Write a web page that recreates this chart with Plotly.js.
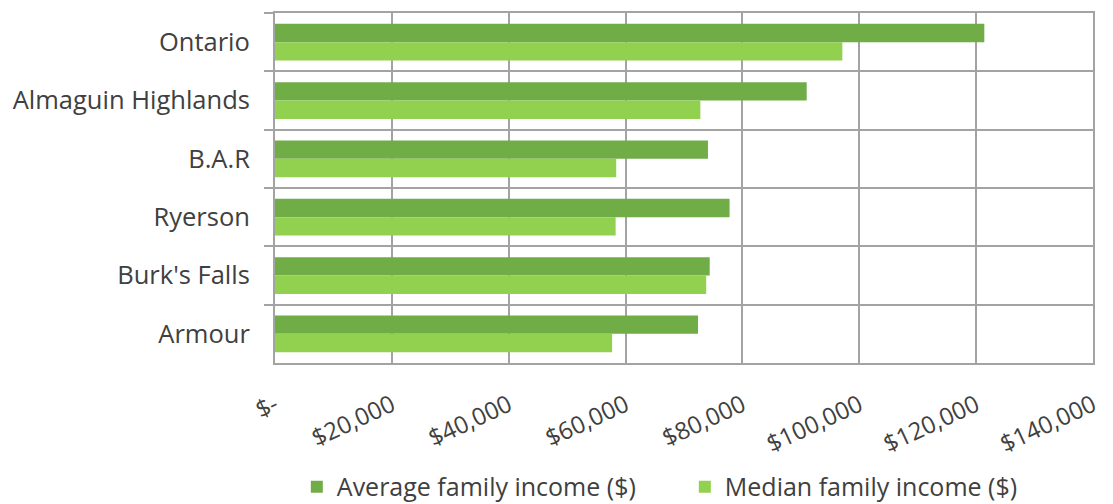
<!DOCTYPE html>
<html>
<head>
<meta charset="utf-8">
<script src="https://cdn.plot.ly/plotly-3.0.1.min.js"></script>
<style>html,body{margin:0;padding:0;background:#fff;}#chart{width:1113px;height:504px;}</style>
</head>
<body>
<div id="chart"></div>
<script>
const categories = ["Ontario", "Almaguin Highlands", "B.A.R", "Ryerson", "Burk's Falls", "Armour"];
const averageIncome = [121400, 91000, 74100, 77800, 74400, 72400];
const medianIncome = [97100, 72800, 58400, 58300, 73800, 57700];
const tickValues = [0, 20000, 40000, 60000, 80000, 100000, 120000, 140000];
const tickLabels = ["$-", "$20,000", "$40,000", "$60,000", "$80,000", "$100,000", "$120,000", "$140,000"];

const FONT = "Open Sans, Lato, sans-serif";
const traces = [
  {type: "bar", orientation: "h", name: "Average family income ($)", y: categories, x: averageIncome,
   marker: {color: "#70AD47"}},
  {type: "bar", orientation: "h", name: "Median family income ($)", y: categories, x: medianIncome,
   marker: {color: "#92D050"}}
];
const layout = {
  width: 1113, height: 504,
  margin: {l: 275, r: 20, t: 13, b: 141, autoexpand: false},
  paper_bgcolor: "#fff", plot_bgcolor: "#fff",
  barmode: "group", bargap: 0.37, bargroupgap: 0,
  font: {family: FONT, color: "#404040"},
  xaxis: {range: [0, 140000], tickvals: tickValues, ticktext: tickLabels, tickangle: -25,
          showgrid: true, gridcolor: "#a3a3a3", gridwidth: 2, zeroline: false,
          showline: true, linecolor: "#a3a3a3", linewidth: 2, mirror: true, automargin: false,
          ticks: "", ticklabelstandoff: 17, tickfont: {size: 24, family: FONT, color: "#404040"}, fixedrange: true},
  yaxis: {autorange: "reversed", type: "category", tickson: "boundaries", ticks: "outside", ticklen: 9,
          tickcolor: "#a3a3a3", tickwidth: 2, showgrid: true, gridcolor: "#a3a3a3", gridwidth: 2,
          showline: true, linecolor: "#a3a3a3", linewidth: 2, mirror: true, zeroline: false, automargin: false,
          ticklabelstandoff: 18,
          tickfont: {size: 25.5, family: FONT, color: "#404040"}, fixedrange: true},
  showlegend: true,
  legend: {orientation: "h", x: 0.501, xanchor: "center", y: -0.354, yanchor: "middle",
           font: {size: 25, family: FONT, color: "#404040"}, traceorder: "normal", itemwidth: 30,
           entrywidth: 343}
};
Plotly.newPlot("chart", traces, layout, {displayModeBar: false, staticPlot: true});
</script>
</body>
</html>
